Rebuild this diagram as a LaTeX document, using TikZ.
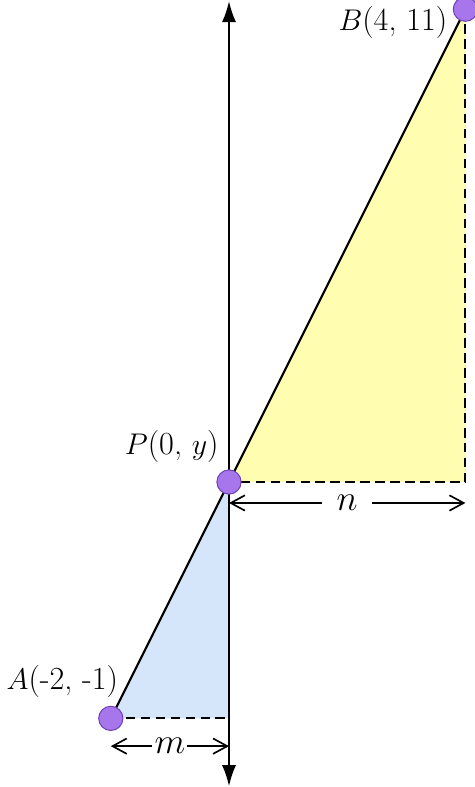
\documentclass[tikz,border=0pt]{standalone}
\usetikzlibrary{arrows.meta}
\definecolor{triyellow}{HTML}{FFFDB0}
\definecolor{triblue}{HTML}{D5E6FB}
\definecolor{dotfill}{HTML}{A775EC}
\definecolor{dotline}{HTML}{7044B0}
\tikzset{
  axisline/.style={line width=1pt,{Latex[length=3.6mm,width=2.4mm]}-{Latex[length=3.6mm,width=2.4mm]}},
  segline/.style={line width=1pt},
  tri/.style={dash pattern=on 4.6pt off 2.6pt,line width=0.9pt},
  dimarrow/.style={line width=0.8pt,{Straight Barb[length=2.4mm,width=2.6mm]}-{Straight Barb[length=2.4mm,width=2.6mm]}},
  dot/.style={circle,fill=dotfill,draw=dotline,line width=0.5pt,minimum size=4.1mm,inner sep=0pt},
  lbl/.style={font=\fontsize{15.5}{18}\selectfont,inner sep=0pt},
  dimlbl/.style={fill=white,font=\fontsize{17}{20}\selectfont,inner ysep=1pt},
}
\begin{document}
\begin{tikzpicture}[x=1cm,y=1cm]
\useasboundingbox (-3.875,-2.161) rectangle (4.146,11.156);
\coordinate (A) at (-2,-1);
\coordinate (P) at (0,3);
\coordinate (B) at (4,11);
\coordinate (Bc) at (4,3);
\coordinate (Ac) at (0,-1);
\coordinate (top) at (0,11.14);
\coordinate (bot) at (0,-2.15);
\fill[triyellow] (P) -- (B) -- (Bc) -- cycle;
\fill[triblue] (A) -- (P) -- (Ac) -- cycle;
\draw[tri] (B) -- (Bc) -- (P);
\draw[tri] (A) -- (Ac);
\draw[segline] (A) -- (B);
\draw[axisline] (bot) -- (top);
\coordinate (m1) at (-2,-1.47);
\coordinate (m2) at (0,-1.47);
\coordinate (n1) at (0,2.645);
\coordinate (n2) at (4,2.645);
\draw[dimarrow] (m1) -- node[dimlbl,inner xsep=1pt] (mlab) {$m$} (m2);
\draw[dimarrow] (n1) -- node[dimlbl,inner xsep=7pt] (nlab) {$n$} (n2);
\node[dot] (Ad) at (A) {};
\node[dot] (Pd) at (P) {};
\node[dot] (Bd) at (B) {};
\node[lbl,anchor=south east] (Al) at (-1.87,-0.65) {$A$(-2, -1)};
\node[lbl,anchor=south east] (Pl) at (-0.17,3.33) {$P$(0, $y$)};
\node[lbl,anchor=south east] (Bl) at (3.70,10.50) {$B$(4, 11)};
\end{tikzpicture}
\end{document}
